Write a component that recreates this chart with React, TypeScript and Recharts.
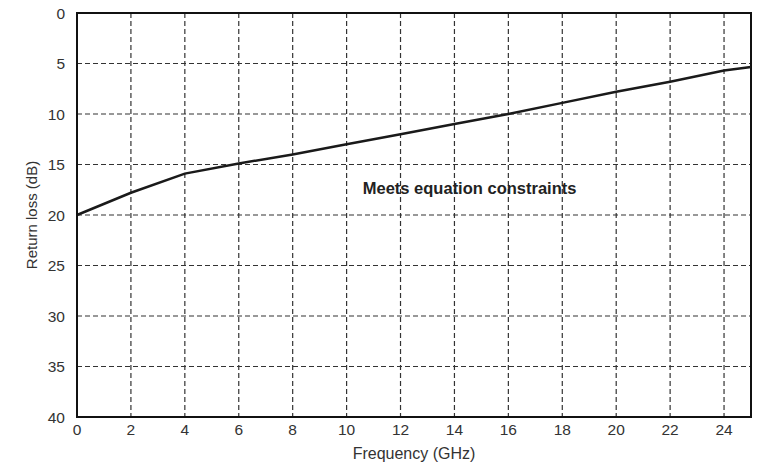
import {
  LineChart,
  Line,
  XAxis,
  YAxis,
  CartesianGrid,
  ReferenceArea,
  ReferenceDot,
  Label,
} from "recharts";

const freqs = [0, 2, 4, 6, 8, 10, 12, 14, 16, 18, 20, 22, 24, 25];
const returnLoss = [20, 17.8, 15.9, 14.9, 14, 13, 12, 11, 10, 8.9, 7.8, 6.8, 5.7, 5.35];
const xTicks = [0, 2, 4, 6, 8, 10, 12, 14, 16, 18, 20, 22, 24];
const yTicks = [0, 5, 10, 15, 20, 25, 30, 35, 40];
const note = "Meets equation constraints";

const data = freqs.map((f, i) => ({ f, rl: returnLoss[i] }));

const font = "'Liberation Sans', Arial, sans-serif";

export default function App() {
  return (
    <div style={{ position: "absolute", left: 0, top: 0, background: "#fff" }}>
      <LineChart
        width={758}
        height={466}
        data={data}
        margin={{ top: 13, right: 7, left: 0, bottom: 0 }}
        style={{ fontFamily: font }}
      >
        <CartesianGrid
          stroke="#333"
          strokeDasharray="5 3"
          strokeWidth={1.2}
          verticalValues={xTicks}
          horizontalValues={yTicks}
        />
        <XAxis
          dataKey="f"
          type="number"
          domain={[0, 25]}
          ticks={xTicks}
          interval={0}
          stroke="#111"
          strokeWidth={2}
          tickLine={false}
          tick={{ fill: "#333", fontSize: 15.5 }}
          tickMargin={1}
          height={49}
        >
          <Label
            value="Frequency (GHz)"
            position="insideBottom"
            offset={7}
            style={{ fill: "#333", fontSize: 16 }}
          />
        </XAxis>
        <YAxis
          type="number"
          domain={[0, 40]}
          ticks={yTicks}
          interval={0}
          reversed
          stroke="#111"
          strokeWidth={2}
          tickLine={false}
          tick={{ fill: "#333", fontSize: 15.5 }}
          tickMargin={6}
          width={77}
        >
          <Label
            value="Return loss (dB)"
            angle={-90}
            position="insideLeft"
            offset={32}
            style={{ fill: "#333", fontSize: 15, textAnchor: "middle" }}
          />
        </YAxis>
        <ReferenceArea
          x1={0}
          x2={25}
          y1={0}
          y2={40}
          fill="none"
          stroke="#111"
          strokeWidth={2}
          ifOverflow="visible"
        />
        <Line
          dataKey="rl"
          type="linear"
          stroke="#1a1a1a"
          strokeWidth={2.5}
          dot={false}
          isAnimationActive={false}
        />
        <ReferenceDot x={10.6} y={17.3} r={0} fill="none" stroke="none">
          <Label
            value={note}
            position="right"
            offset={0}
            style={{ fill: "#222", fontSize: 16.5, fontWeight: "bold" }}
          />
        </ReferenceDot>
      </LineChart>
    </div>
  );
}
